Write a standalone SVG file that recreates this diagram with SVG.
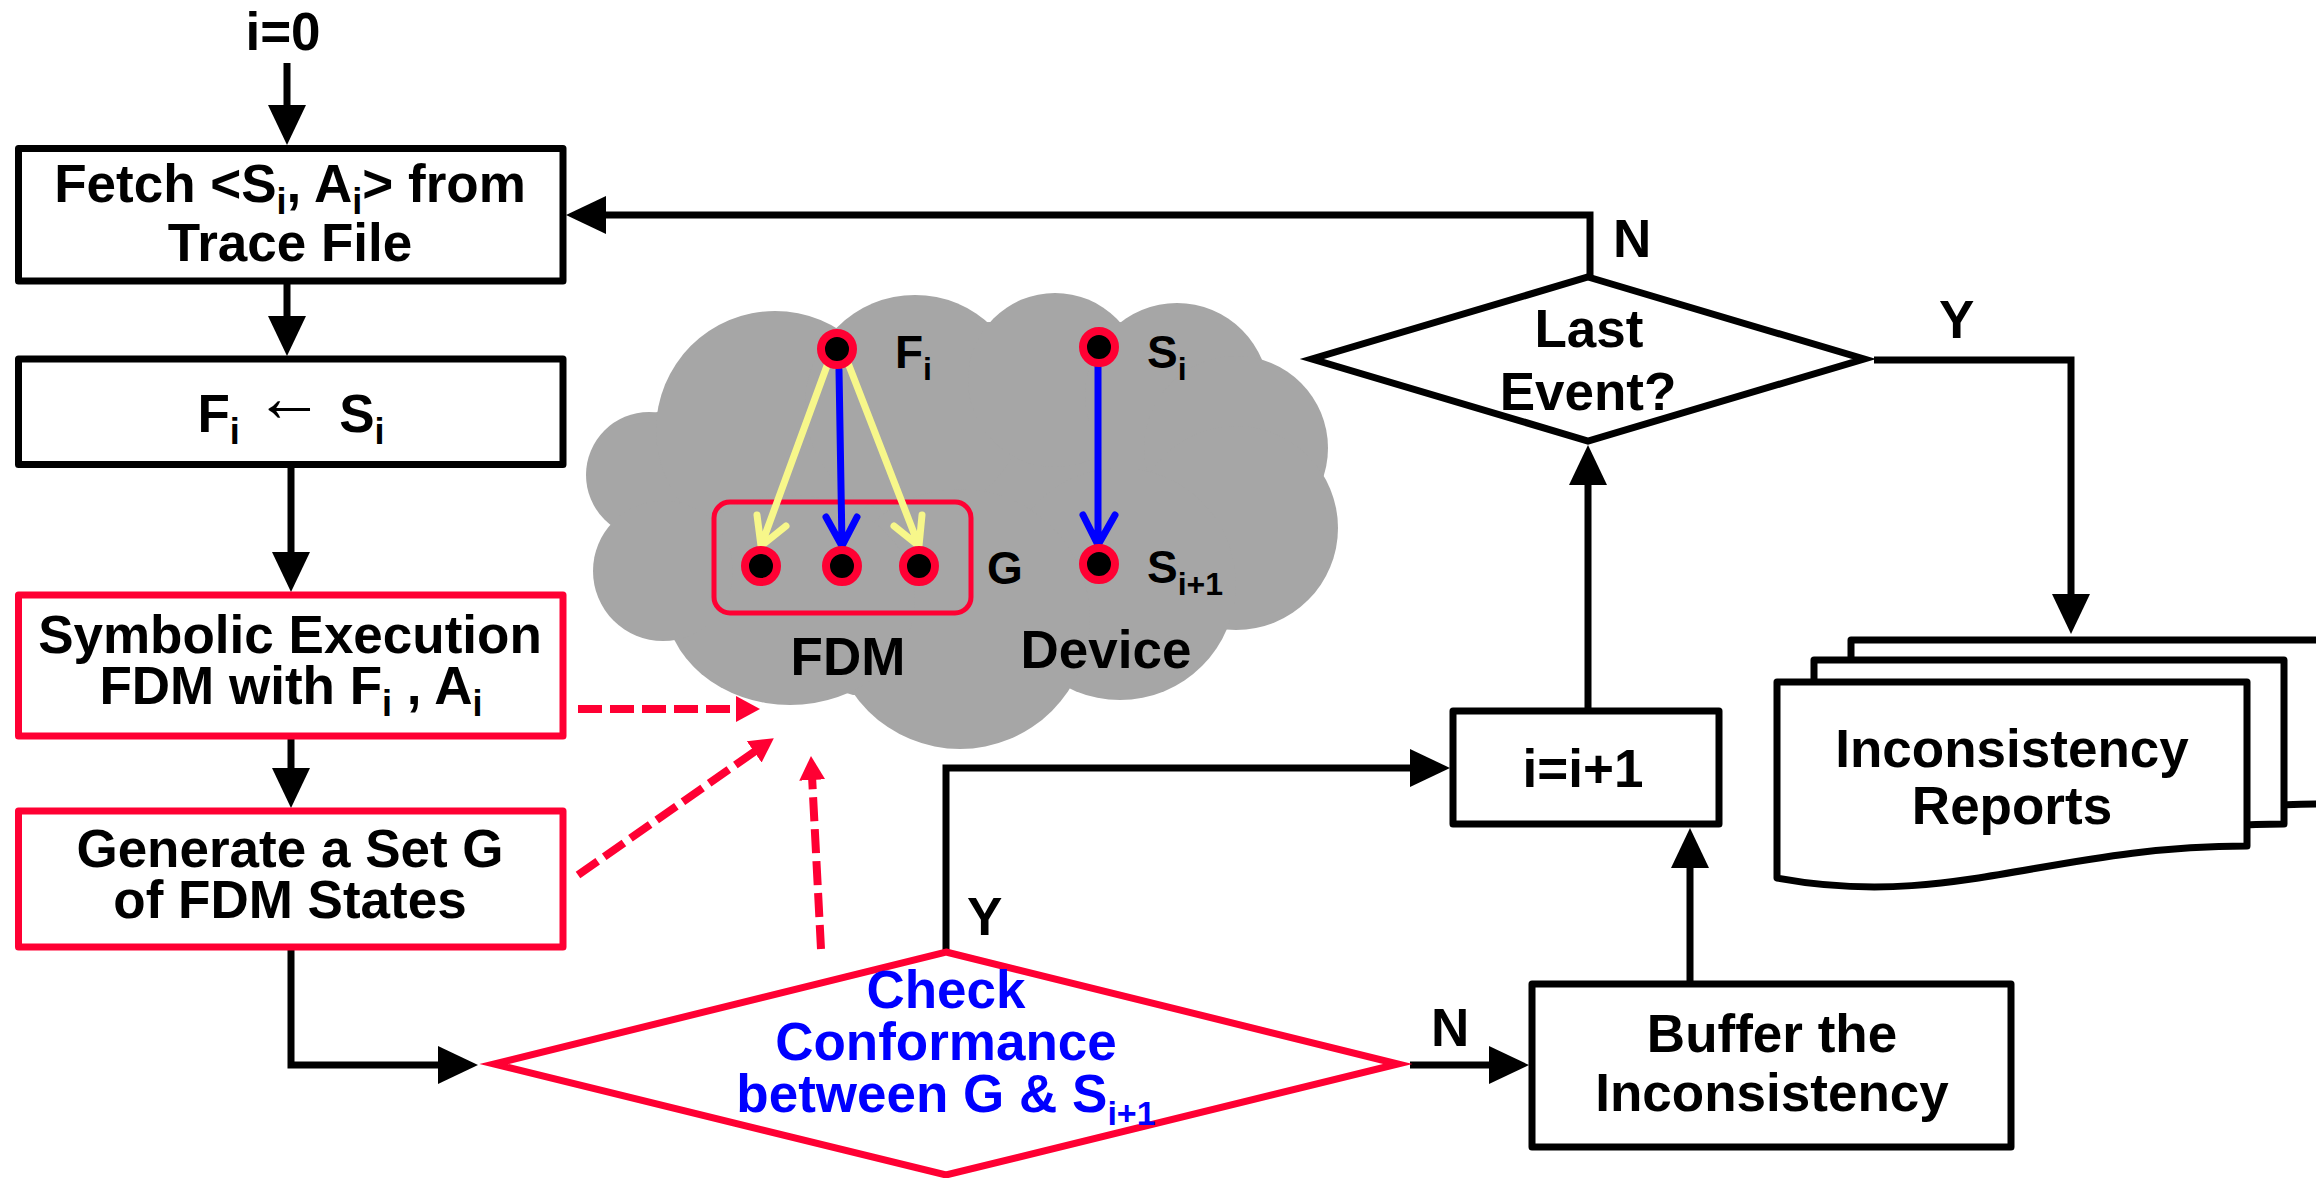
<svg xmlns="http://www.w3.org/2000/svg" width="2316" height="1178" viewBox="0 0 2316 1178">
  <defs>
    <style>
      .t { font-family: "Liberation Sans", Arial, sans-serif; font-weight: bold; font-size: 53px; fill: #000; }
      .c { text-anchor: middle; }
      .blue { fill: #0000FF; }
      .small { font-size: 46px; }
      .box { fill: #fff; stroke: #000; stroke-width: 7; stroke-linejoin: round; }
      .rbox { fill: #fff; stroke: #FF0033; stroke-width: 7; stroke-linejoin: round; }
      .dia { fill: #fff; stroke: #000; stroke-width: 7; stroke-linejoin: miter; stroke-miterlimit: 10; }
      .rdia { fill: #fff; stroke: #FF0033; stroke-width: 7; stroke-linejoin: miter; stroke-miterlimit: 10; }
      .conn { fill: none; stroke: #000; stroke-width: 7; marker-end: url(#ah); }
      .dash { fill: none; stroke: #FF0033; stroke-width: 8; stroke-dasharray: 24 8; marker-end: url(#ahr); }
      .state { fill: #000; stroke: #FF0033; stroke-width: 8; }
      .edge { fill: none; stroke-width: 7; stroke-linecap: round; stroke-linejoin: round; }
      .yl { stroke: #F7F78A; }
      .bl { stroke: #0000FF; }
      .page { fill: #fff; stroke: #000; stroke-width: 7; stroke-linejoin: round; }
    </style>
    <marker id="ah" markerUnits="userSpaceOnUse" viewBox="0 0 40 38" markerWidth="40" markerHeight="38" refX="20" refY="19" orient="auto">
      <path d="M0,0 L40,19 L0,38 z" fill="#000"/>
    </marker>
    <marker id="ahr" markerUnits="userSpaceOnUse" viewBox="0 0 24 26" markerWidth="24" markerHeight="26" refX="12" refY="13" orient="auto">
      <path d="M0,0 L24,13 L0,26 z" fill="#FF0033"/>
    </marker>
  </defs>

  <rect width="2316" height="1178" fill="#fff"/>

  <!-- cloud: FDM and device state spaces -->
  <g id="cloud">
    <g fill="#A6A6A6">
      <polygon points="655,413 840,327 990,322 1120,322 1265,368 1318,477 1227,627 1067,687 853,695 670,638 615,528"/>
      <circle cx="649" cy="475" r="63"/>
      <circle cx="775" cy="430" r="119"/>
      <circle cx="915" cy="405" r="110"/>
      <circle cx="1055" cy="380" r="87"/>
      <circle cx="1177" cy="395" r="92"/>
      <circle cx="1236" cy="448" r="92"/>
      <circle cx="1236" cy="528" r="102"/>
      <circle cx="1120" cy="584" r="116"/>
      <circle cx="960" cy="619" r="130"/>
      <ellipse cx="790" cy="600" rx="125" ry="105"/>
      <circle cx="663" cy="571" r="70"/>
    </g>
    <rect id="set-g" x="714" y="502" width="257" height="111" rx="16" fill="none" stroke="#FF0033" stroke-width="5"/>
    <g id="cloud-edges">
      <path class="edge yl" d="M828,363 L761,546 M757,515 L761,546 L786,526"/>
      <path class="edge yl" d="M848,363 L919,546 M922,515 L919,546 L894,526"/>
      <path class="edge bl" d="M839,370 L842,545 M826,517 L842,546 L857,517"/>
      <path class="edge bl" d="M1098,366 L1098,544 M1083,515 L1098,545 L1115,515"/>
    </g>
    <g id="state-fi"><circle class="state" cx="837" cy="349" r="16"/></g>
    <g id="state-g1"><circle class="state" cx="761" cy="566" r="16"/></g>
    <g id="state-g2"><circle class="state" cx="842" cy="566" r="16"/></g>
    <g id="state-g3"><circle class="state" cx="919" cy="566" r="16"/></g>
    <g id="state-si"><circle class="state" cx="1099" cy="347" r="16"/></g>
    <g id="state-si1"><circle class="state" cx="1099" cy="564" r="16"/></g>
    <text class="t small" x="895" y="368">F<tspan font-size="32" dy="12">i</tspan></text>
    <text class="t small" x="1147" y="368">S<tspan font-size="32" dy="12">i</tspan></text>
    <text class="t small" x="1147" y="583">S<tspan font-size="32" dy="12">i+1</tspan></text>
    <text class="t small" x="987" y="584">G</text>
    <text class="t c" x="848" y="675">FDM</text>
    <text class="t c" x="1106" y="668">Device</text>
  </g>

  <!-- flow connectors -->
  <g id="connectors">
    <path class="conn" d="M287,63 V125"/>
    <path class="conn" d="M287,284 V336"/>
    <path class="conn" d="M291,467 V572"/>
    <path class="conn" d="M291,739 V788"/>
    <path class="conn" d="M291,950 V1065 H458"/>
    <path class="conn" d="M946,952 V768 H1430"/>
    <path class="conn" d="M1410,1065 H1509"/>
    <path class="conn" d="M1690,981 V848"/>
    <path class="conn" d="M1588,708 V465"/>
    <path class="conn" d="M1590,277 V215 H586"/>
    <path class="conn" d="M1874,360 H2071 V614"/>
    <path class="dash" d="M578,709 H748"/>
    <path class="dash" d="M578,875 L764,745"/>
    <path class="dash" d="M821,949 L811.6,768"/>
    <text class="t" x="1613" y="257">N</text>
    <text class="t" x="1939" y="338">Y</text>
    <text class="t" x="967" y="935">Y</text>
    <text class="t" x="1431" y="1046">N</text>
  </g>

  <g id="start">
    <text class="t c" x="283" y="50">i=0</text>
  </g>

  <g id="fetch">
    <rect class="box" x="18.5" y="148.5" width="544.5" height="132.5"/>
    <text class="t c" x="290" y="202">Fetch &lt;S<tspan font-size="36" dy="12">i</tspan><tspan dy="-12">, A</tspan><tspan font-size="36" dy="12">i</tspan><tspan dy="-12">&gt; from</tspan></text>
    <text class="t c" x="290" y="261">Trace File</text>
  </g>

  <g id="assign">
    <rect class="box" x="18.5" y="359" width="544.5" height="105.5"/>
    <text class="t c" x="291" y="432">F<tspan font-size="36" dy="12">i</tspan><tspan dy="-12"> </tspan><tspan font-weight="normal" font-size="70" dy="-11">←</tspan><tspan dy="11"> S</tspan><tspan font-size="36" dy="12">i</tspan></text>
  </g>

  <g id="symexec">
    <rect class="rbox" x="18.5" y="595" width="544.5" height="141"/>
    <text class="t c" x="290" y="653">Symbolic Execution</text>
    <text class="t c" x="291" y="704">FDM with F<tspan font-size="36" dy="12">i</tspan><tspan dy="-12"> , A</tspan><tspan font-size="36" dy="12">i</tspan></text>
  </g>

  <g id="generate">
    <rect class="rbox" x="18.5" y="811" width="544.5" height="136"/>
    <text class="t c" x="290" y="867">Generate a Set G</text>
    <text class="t c" x="290" y="918">of FDM States</text>
  </g>

  <g id="check">
    <polygon class="rdia" points="946,952 1398,1064 946,1175 494,1064"/>
    <text class="t c blue" x="946" y="1008">Check</text>
    <text class="t c blue" x="946" y="1060">Conformance</text>
    <text class="t c blue" x="946" y="1112">between G &amp; S<tspan font-size="34" dy="13">i+1</tspan></text>
  </g>

  <g id="increment">
    <rect class="box" x="1453" y="711" width="266" height="113"/>
    <text class="t c" x="1583" y="787">i=i+1</text>
  </g>

  <g id="buffer">
    <rect class="box" x="1532" y="984" width="479" height="163"/>
    <text class="t c" x="1772" y="1052">Buffer the</text>
    <text class="t c" x="1772" y="1111">Inconsistency</text>
  </g>

  <g id="last-event">
    <polygon class="dia" points="1588,277 1864,359 1588,441 1312,359"/>
    <text class="t c" x="1589" y="347">Last</text>
    <text class="t c" x="1588" y="410">Event?</text>
  </g>

  <g id="reports">
    <path class="page" transform="translate(74,-42)" d="M1777,682 H2247 V846 C2050,846 1950,910 1777,878 Z"/>
    <path class="page" transform="translate(37,-22)" d="M1777,682 H2247 V846 C2050,846 1950,910 1777,878 Z"/>
    <path class="page" d="M1777,682 H2247 V846 C2050,846 1950,910 1777,878 Z"/>
    <text class="t c" x="2012" y="767">Inconsistency</text>
    <text class="t c" x="2012" y="824">Reports</text>
  </g>
</svg>
